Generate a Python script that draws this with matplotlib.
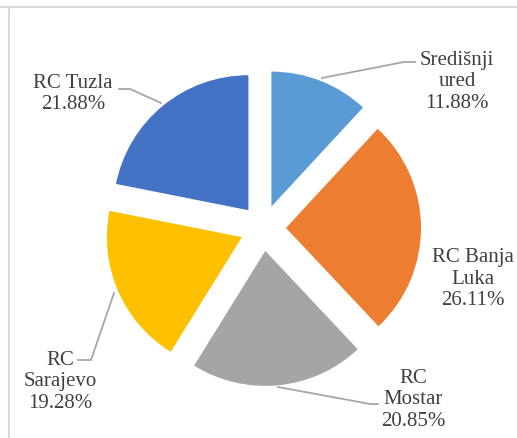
import matplotlib.pyplot as plt

# data
labels = ['Središnji\nured', 'RC Banja\nLuka', 'RC\nMostar', 'RC\nSarajevo', 'RC Tuzla']
values = [11.88, 26.11, 20.85, 19.28, 21.88]
colors = ['#5B9BD5', '#ED7D31', '#A5A5A5', '#FFC000', '#4472C4']

W, H = 517, 439
fig = plt.figure(figsize=(W / 100, H / 100), dpi=100)
ax = fig.add_axes([0, 0, 1, 1])

# pie in pixel units (y measured from bottom); explode is in data units here
cx, cy, r = 263, H - 229, 135
ax.pie(values, colors=colors, startangle=90, counterclock=False,
       center=(cx, cy), radius=r, explode=[23] * len(values),
       wedgeprops=dict(linewidth=0), frame=True)
ax.set_xlim(0, W)
ax.set_ylim(0, H)
ax.axis('off')

# label positions (image pixel coords, y from top)
label_pos = [(457, 82), (473, 279), (413, 400), (60, 382), (73, 94)]
for lab, v, (x, y) in zip(labels, values, label_pos):
    ax.text(x, H - y, '%s\n%.2f%%' % (lab, v), ha='center', va='center',
            multialignment='center', fontsize=15, color='#404040',
            family=['Liberation Serif', 'DejaVu Serif'], linespacing=1.2)

# leader lines
leaders = [
    [(322, 79), (404, 63), (415, 63)],
    [(278, 388), (370, 405), (378, 405)],
    [(114, 294), (91, 361), (78, 361)],
    [(161, 104), (130, 90), (119, 90)],
]
for pts in leaders:
    ax.plot([p[0] for p in pts], [H - p[1] for p in pts], color='#A6A6A6', lw=1.3)

# chart border (partly cropped)
ax.plot([0, W], [H - 8, H - 8], color='#D9D9D9', lw=1.5)
ax.plot([9, 9], [0, H - 8], color='#D9D9D9', lw=1.5)

fig.savefig('out.png', dpi=100)
